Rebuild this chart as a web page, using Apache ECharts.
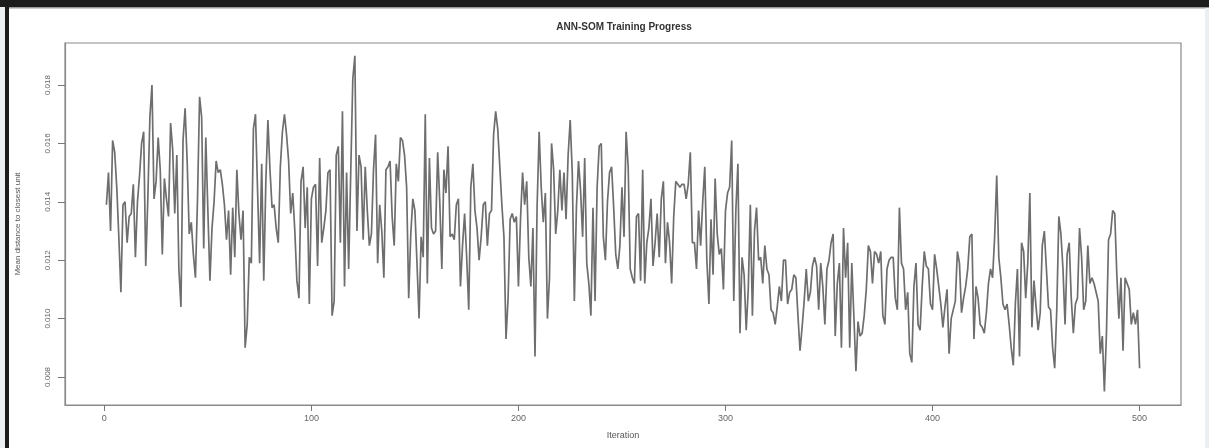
<!DOCTYPE html>
<html>
<head>
<meta charset="utf-8">
<script src="https://cdn.jsdelivr.net/npm/echarts@6/dist/echarts.min.js"></script>
<style>
html,body{margin:0;padding:0;background:#fff;}
#c{width:1209px;height:448px;}
</style>
</head>
<body>
<div id="c"></div>
<script>
const titleText = 'ANN-SOM Training Progress';
const xName = 'Iteration';
const yName = 'Mean distance to closest unit';
const xTicks = [0, 100, 200, 300, 400, 500];
const yTicks = [0.008, 0.010, 0.012, 0.014, 0.016, 0.018];

const seg1 = [0.0139,0.0150,0.0130,0.0161,0.0157,0.0145,0.0128,0.0109,0.0139,0.0140,
0.0126,0.0135,0.0136,0.0146,0.0121,0.0140,0.0149,0.0160,0.0164,0.0118,
0.0141,0.0169,0.0180,0.0141,0.0147,0.0162,0.0151,0.0122,0.0148,0.0141,
0.0135,0.0167,0.0158,0.0136,0.0156,0.0117,0.0104,0.0161,0.0172,0.0154,
0.0129,0.0133,0.0122,0.0114,0.0141,0.0176,0.0169,0.0124,0.0162,0.0137,
0.0113,0.0131,0.0140,0.0154,0.0150,0.0151,0.0146,0.0139,0.0127,0.0137,
0.0115,0.0138,0.0121,0.0151,0.0136,0.0127,0.0137,0.0090,0.0098,0.0121,
0.0119,0.0165,0.0170,0.0144,0.0119,0.0153,0.0113,0.0147,0.0168,0.0151,
0.0138,0.0139,0.0131,0.0126,0.0152,0.0164,0.0170,0.0163,0.0154,0.0136,
0.0143,0.0130,0.0113,0.0107,0.0147,0.0152,0.0131,0.0145,0.0105,0.0141];
const seg2 = [0.0145,0.0146,0.0118,0.0155,0.0126,0.0131,0.0137,0.0150,0.0151,0.0101,
0.0106,0.0156,0.0159,0.0126,0.0171,0.0111,0.0150,0.0117,0.0150,0.0182,
0.0190,0.0130,0.0156,0.0152,0.0127,0.0152,0.0137,0.0125,0.0129,0.0151,
0.0163,0.0119,0.0139,0.0130,0.0114,0.0151,0.0152,0.0154,0.0135,0.0125,
0.0153,0.0147,0.0162,0.0161,0.0156,0.0145,0.0107,0.0129,0.0141,0.0137,
0.0119,0.0100,0.0128,0.0121,0.0170,0.0112,0.0155,0.0131,0.0129,0.0130,
0.0157,0.0140,0.0117,0.0151,0.0143,0.0159,0.0128,0.0129,0.0127,0.0139,
0.0141,0.0111,0.0125,0.0136,0.0121,0.0103,0.0145,0.0153,0.0137,0.0131,
0.0120,0.0128,0.0139,0.0140,0.0125,0.0136,0.0137,0.0163,0.0171,0.0165,
0.0152,0.0139,0.0128,0.0093,0.0107,0.0134,0.0136,0.0133,0.0135,0.0111];
const seg3 = [0.0134,0.0150,0.0139,0.0147,0.0121,0.0111,0.0131,0.0087,0.0138,0.0164,
0.0145,0.0133,0.0143,0.0100,0.0114,0.0160,0.0151,0.0129,0.0137,0.0151,
0.0137,0.0150,0.0134,0.0156,0.0168,0.0150,0.0106,0.0138,0.0154,0.0144,
0.0128,0.0155,0.0119,0.0112,0.0101,0.0138,0.0106,0.0145,0.0159,0.0160,
0.0128,0.0120,0.0140,0.0150,0.0152,0.0138,0.0122,0.0117,0.0125,0.0145,
0.0128,0.0164,0.0152,0.0117,0.0114,0.0112,0.0135,0.0136,0.0113,0.0151,
0.0112,0.0126,0.0131,0.0141,0.0118,0.0126,0.0136,0.0121,0.0141,0.0147,
0.0119,0.0133,0.0126,0.0112,0.0135,0.0147,0.0146,0.0145,0.0146,0.0146,
0.0141,0.0146,0.0157,0.0126,0.0126,0.0117,0.0137,0.0125,0.0140,0.0152,
0.0120,0.0105,0.0134,0.0115,0.0148,0.0129,0.0122,0.0124,0.0110,0.0137];
const seg4 = [0.0143,0.0145,0.0161,0.0106,0.0137,0.0153,0.0095,0.0121,0.0115,0.0096,
0.0110,0.0139,0.0101,0.0130,0.0138,0.0120,0.0121,0.0112,0.0125,0.0117,
0.0115,0.0103,0.0102,0.0098,0.0104,0.0111,0.0106,0.0120,0.0120,0.0105,
0.0109,0.0110,0.0115,0.0114,0.0101,0.0089,0.0097,0.0106,0.0117,0.0106,
0.0109,0.0118,0.0121,0.0118,0.0103,0.0119,0.0111,0.0098,0.0117,0.0120,
0.0126,0.0129,0.0094,0.0112,0.0119,0.0090,0.0131,0.0114,0.0126,0.0090,
0.0119,0.0101,0.0082,0.0099,0.0094,0.0095,0.0101,0.0110,0.0125,0.0123,
0.0112,0.0123,0.0122,0.0119,0.0123,0.0101,0.0098,0.0117,0.0120,0.0121,
0.0121,0.0107,0.0103,0.0138,0.0119,0.0117,0.0103,0.0109,0.0088,0.0085,
0.0111,0.0119,0.0098,0.0096,0.0111,0.0123,0.0118,0.0117,0.0105,0.0103];
const seg5 = [0.0122,0.0117,0.0111,0.0105,0.0097,0.0104,0.0110,0.0088,0.0100,0.0103,
0.0106,0.0123,0.0119,0.0102,0.0107,0.0111,0.0117,0.0128,0.0129,0.0093,
0.0111,0.0107,0.0098,0.0097,0.0095,0.0102,0.0112,0.0117,0.0114,0.0128,
0.0149,0.0121,0.0114,0.0105,0.0103,0.0105,0.0098,0.0090,0.0084,0.0105,
0.0117,0.0087,0.0126,0.0123,0.0107,0.0119,0.0143,0.0097,0.0113,0.0104,
0.0096,0.0102,0.0125,0.0130,0.0117,0.0104,0.0103,0.0090,0.0083,0.0103,
0.0135,0.0129,0.0117,0.0098,0.0122,0.0126,0.0107,0.0095,0.0105,0.0107,
0.0131,0.0121,0.0103,0.0106,0.0125,0.0112,0.0114,0.0112,0.0109,0.0106,
0.0088,0.0094,0.0075,0.0095,0.0127,0.0129,0.0137,0.0136,0.0115,0.0100,
0.0114,0.0089,0.0114,0.0112,0.0110,0.0098,0.0102,0.0098,0.0103,0.0083];

const values = seg1.concat(seg2, seg3, seg4, seg5);
const points = values.map((v, i) => [i + 1, v]);

const chart = echarts.init(document.getElementById('c'), null, {renderer: 'canvas'});
const font = 'Liberation Sans, Arial, sans-serif';
chart.setOption({
  animation: false,
  backgroundColor: '#ffffff',
  grid: {left: 65, top: 43, right: 28, bottom: 43, show: true, borderColor: '#8a8a8a', borderWidth: 1.2, backgroundColor: 'transparent'},
  graphic: [
    {type: 'rect', shape: {x: 0, y: 0, width: 1209, height: 7}, style: {fill: '#1c1c1c'}, silent: true},
    {type: 'rect', shape: {x: 0, y: 7, width: 1209, height: 1.5}, style: {fill: '#9a9a9a'}, silent: true},
    {type: 'rect', shape: {x: 0, y: 7, width: 5, height: 441}, style: {fill: '#eceff2'}, silent: true},
    {type: 'rect', shape: {x: 5, y: 7, width: 4, height: 441}, style: {fill: '#1c1c1c'}, silent: true},
    {type: 'rect', shape: {x: 1205, y: 8, width: 4, height: 440}, style: {fill: '#eceff2'}, silent: true},
    {type: 'text', x: 624, y: 27, silent: true,
      style: {text: titleText, fill: '#333', font: 'bold 10px ' + font, align: 'center', verticalAlign: 'middle'}}
  ],
  xAxis: {
    type: 'value', min: -19, max: 520,
    name: xName, nameLocation: 'middle', nameGap: 26,
    nameTextStyle: {color: '#555', fontSize: 9, fontFamily: font},
    splitLine: {show: false},
    axisLine: {show: true, onZero: false, lineStyle: {color: '#8a8a8a', width: 1.2}},
    axisTick: {show: true, length: 6, customValues: xTicks, lineStyle: {color: '#777'}},
    axisLabel: {customValues: xTicks, color: '#666', fontSize: 9, fontFamily: font, margin: 9}
  },
  yAxis: {
    type: 'value', min: 0.00704, max: 0.01944,
    name: yName, nameLocation: 'middle', nameGap: 43,
    nameTextStyle: {color: '#555', fontSize: 8, fontFamily: font},
    splitLine: {show: false},
    axisLine: {show: true, onZero: false, lineStyle: {color: '#8a8a8a', width: 1.2}},
    axisTick: {show: true, length: 7, customValues: yTicks, lineStyle: {color: '#777'}},
    axisLabel: {customValues: yTicks, rotate: 90, color: '#666', fontSize: 8, fontFamily: font, margin: 13,
      formatter: v => v.toFixed(3)}
  },
  series: [{
    type: 'line', data: points, showSymbol: false, symbol: 'none',
    lineStyle: {color: '#6e6e6e', width: 1.7},
    emphasis: {disabled: true}
  }]
});
</script>
</body>
</html>
